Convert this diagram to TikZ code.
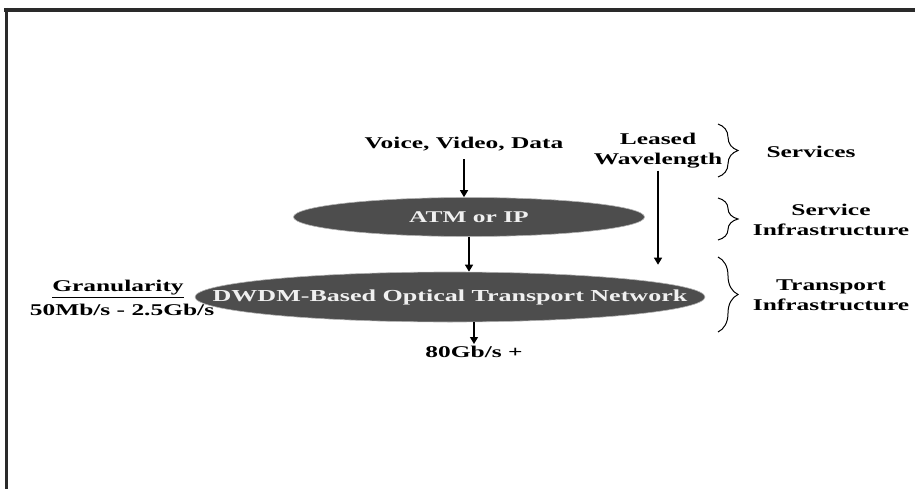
\documentclass[tikz,border=0pt]{standalone}
\usepackage{fontspec}
\usepackage{graphicx}
\setmainfont{Liberation Serif}
\usetikzlibrary{shapes.geometric,arrows.meta,decorations.pathreplacing}
\definecolor{frame}{HTML}{2A2A2A}
\definecolor{layer}{HTML}{4D4D4D}
% wide bold lettering
\newcommand{\wtext}[1]{\scalebox{1.55}[1]{#1}}
\begin{document}
\begin{tikzpicture}[x=1pt, y=-1pt, >={Triangle[width=8pt,length=7pt]},
  txt/.style={font=\fontsize{16.4}{20}\selectfont\bfseries, align=center, inner sep=2pt},
  layerbox/.style={ellipse, fill=layer, draw=gray!60, line width=0.6pt, inner sep=0pt},
  inlbl/.style={font=\fontsize{16.4}{20}\selectfont\bfseries, text=white!94!black},
  flow/.style={->, line width=1.3pt},
  grp/.style={decorate, decoration={brace, amplitude=20pt}, line width=1pt}]
\useasboundingbox (0,0) rectangle (915,489);
% frame, open on the right and at the bottom
\draw[frame, line width=4.5pt] (4,10) -- (915,10);
\draw[frame, line width=3pt] (6.5,8) -- (6.5,489);

% network layers
\node[layerbox, minimum width=351, minimum height=39,
  label={[inlbl]center:\wtext{ATM or IP}}] (atm) at (469,217) {};
\node[layerbox, minimum width=510, minimum height=50,
  label={[inlbl, font=\fontsize{16.8}{20}\selectfont\bfseries]center:\wtext{DWDM-Based Optical Transport Network}}] (otn) at (450,297) {};

% traffic in and out
\node[txt] (vvd) at (464,144) {\wtext{Voice, Video, Data}};
\node[txt] (lw) at (658,151) {\wtext{Leased}\\\wtext{Wavelength}};
\node[txt, anchor=north] (rate) at (474,344) {\wtext{80Gb/s +}};
\node[txt] (gran) at (118,289) {\underline{\wtext{Granularity}}};
\node[txt] (grate) at (122,310) {\wtext{50Mb/s - 2.5Gb/s}};

\draw[flow, shorten <=6pt] (vvd.south) -- (atm.north -| vvd.south);
\draw[flow] (atm.south) -- (atm.south |- otn.north);
\draw[flow, shorten >=7pt] (lw.south) -- (otn.north -| lw.south);
\draw[flow] (rate.north |- otn.south) -- (rate.north);

% layer groups
\coordinate (b1a) at (718,124); \coordinate (b1b) at (718,177);
\coordinate (b2a) at (718,198); \coordinate (b2b) at (718,240);
\coordinate (b3a) at (718,257); \coordinate (b3b) at (718,332);
\draw[grp] (b1a) -- (b1b);
\draw[grp] (b2a) -- (b2b);
\draw[grp] (b3a) -- (b3b);
\node[txt] (svc) at (811,152) {\wtext{Services}};
\node[txt] (sinf) at (831,220) {\wtext{Service}\\\wtext{Infrastructure}};
\node[txt] (tinf) at (831,295) {\wtext{Transport}\\\wtext{Infrastructure}};
\end{tikzpicture}
\end{document}
